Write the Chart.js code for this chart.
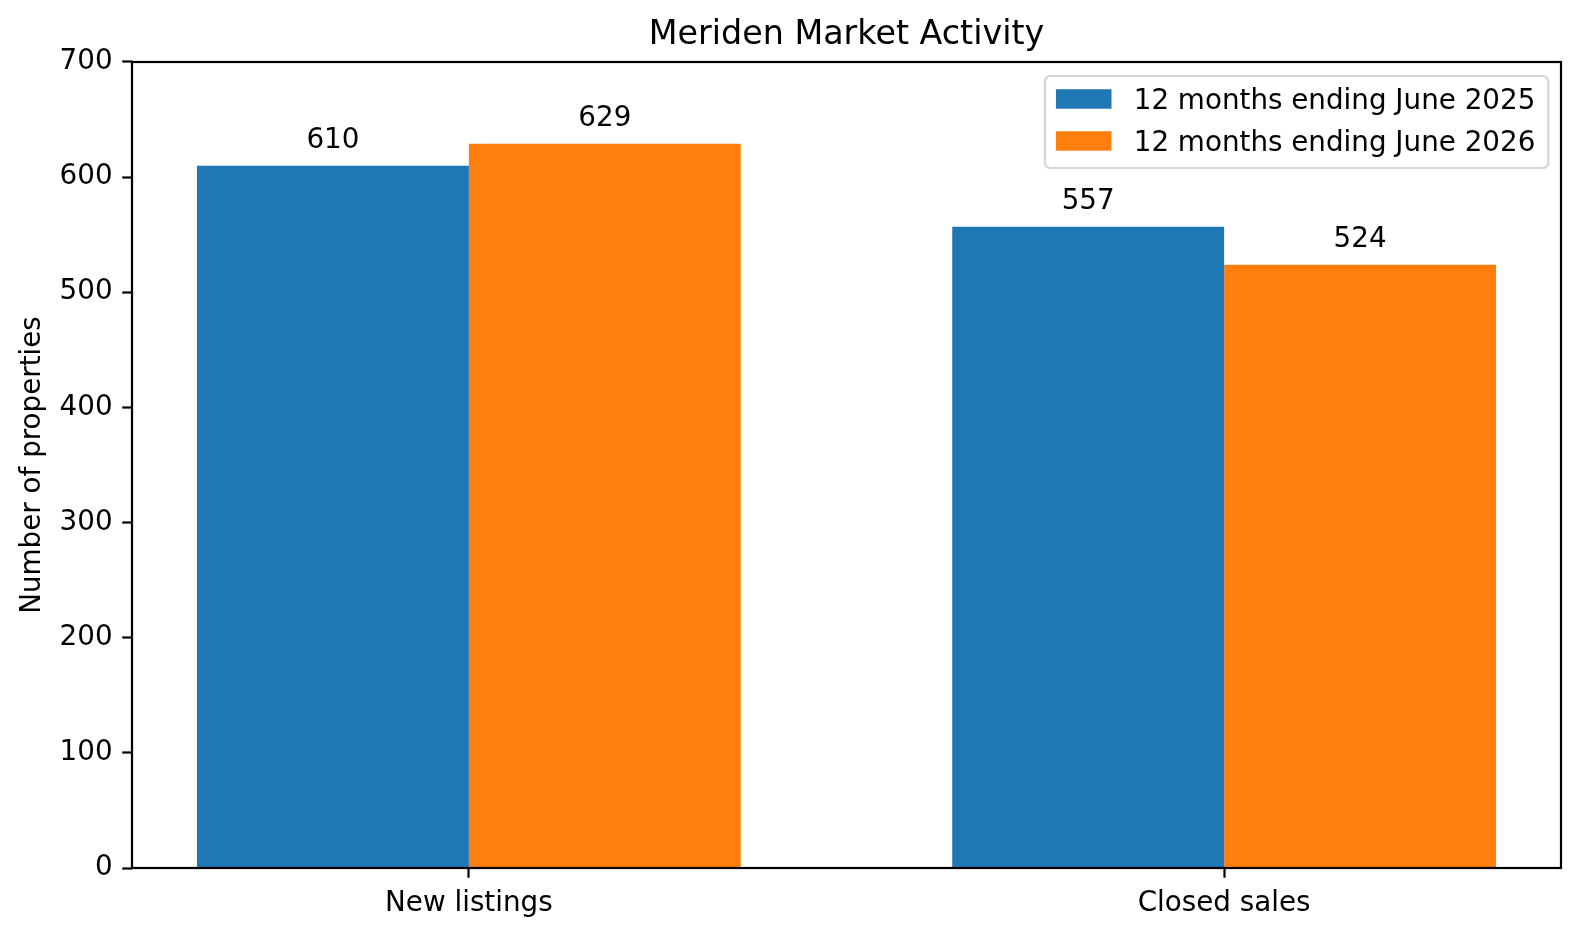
<!DOCTYPE html>
<html>
<head>
<meta charset="utf-8">
<title>Meriden Market Activity</title>
<script src="https://cdn.jsdelivr.net/npm/chart.js@4.4.1/dist/chart.umd.min.js"></script>
<style>
	html, body {
		margin: 0;
		padding: 0;
		background: #ffffff;
	}
	#chart {
		display: block;
	}
</style>
</head>
<body>
<canvas id="chart" width="1580" height="937"></canvas>
<script>
const categories = ["New listings", "Closed sales"];
const seriesLabels = ["12 months ending June 2025", "12 months ending June 2026"];
const values2025 = [610, 557];
const values2026 = [629, 524];
const seriesColors = ["#1f77b4", "#ff7f0e"];
const yTitle = "Number of properties";
const chartTitle = "Meriden Market Activity";

const fontFamily = "'DejaVu Sans', sans-serif";
const pt = 200 / 72;
const lineWidth = 0.8 * pt;

Chart.defaults.font.family = fontFamily;
Chart.defaults.color = "#000000";

const toPoints = values => values.map((v, i) => ({ x: i, y: v }));

// matplotlib style frame: all four spines on top of the bars
const framePlugin = {
	id: "frame",
	afterDatasetsDraw(chart) {
		const { ctx, chartArea } = chart;
		ctx.save();
		ctx.strokeStyle = "#000000";
		ctx.lineWidth = lineWidth;
		ctx.strokeRect(chartArea.left, chartArea.top,
			chartArea.right - chartArea.left, chartArea.bottom - chartArea.top);
		ctx.restore();
	}
};

// value labels above each bar
const barLabelPlugin = {
	id: "barLabels",
	afterDatasetsDraw(chart) {
		const ctx = chart.ctx;
		ctx.save();
		ctx.font = `${10 * pt}px ${fontFamily}`;
		ctx.fillStyle = "#000000";
		ctx.textAlign = "center";
		ctx.textBaseline = "alphabetic";
		chart.data.datasets.forEach((dataset, d) => {
			const meta = chart.getDatasetMeta(d);
			meta.data.forEach((bar, i) => {
				ctx.fillText(String(dataset.data[i].y), bar.x, bar.y - 17.7);
			});
		});
		ctx.restore();
	}
};

// boxed legend in the upper right corner of the axes
const boxLegendPlugin = {
	id: "boxLegend",
	afterDraw(chart) {
		const { ctx, chartArea } = chart;
		const fontSize = 10 * pt;
		ctx.save();
		ctx.font = `${fontSize}px ${fontFamily}`;
		const textWidth = Math.max(...chart.data.datasets.map(ds => ctx.measureText(ds.label).width));
		const handleWidth = 2 * fontSize;
		const handleHeight = 0.7 * fontSize;
		const rowStep = 42;
		const boxRight = chartArea.right - 12.7;
		const boxTop = chartArea.top + 14;
		const textX = boxRight - 13 - textWidth;
		const handleX = textX - 0.8 * fontSize - handleWidth;
		const boxLeft = handleX - 11;
		const boxBottom = boxTop + 92;
		const r = 5.5;
		ctx.beginPath();
		ctx.moveTo(boxLeft + r, boxTop);
		ctx.arcTo(boxRight, boxTop, boxRight, boxBottom, r);
		ctx.arcTo(boxRight, boxBottom, boxLeft, boxBottom, r);
		ctx.arcTo(boxLeft, boxBottom, boxLeft, boxTop, r);
		ctx.arcTo(boxLeft, boxTop, boxRight, boxTop, r);
		ctx.closePath();
		ctx.fillStyle = "rgba(255,255,255,0.8)";
		ctx.fill();
		ctx.strokeStyle = "rgba(204,204,204,0.8)";
		ctx.lineWidth = lineWidth;
		ctx.stroke();
		ctx.textAlign = "left";
		ctx.textBaseline = "alphabetic";
		chart.data.datasets.forEach((ds, i) => {
			const baseline = boxTop + 32.7 + i * rowStep;
			ctx.fillStyle = ds.backgroundColor;
			ctx.fillRect(handleX, baseline - handleHeight, handleWidth, handleHeight);
			ctx.fillStyle = "#000000";
			ctx.fillText(ds.label, textX, baseline);
		});
		ctx.restore();
	}
};

const config = {
	type: "bar",
	data: {
		datasets: [
			{
				label: seriesLabels[0],
				data: toPoints(values2025),
				backgroundColor: seriesColors[0],
				borderWidth: 0
			},
			{
				label: seriesLabels[1],
				data: toPoints(values2026),
				backgroundColor: seriesColors[1],
				borderWidth: 0
			}
		]
	},
	options: {
		responsive: false,
		animation: false,
		devicePixelRatio: 1,
		categoryPercentage: 0.72,
		barPercentage: 1.0,
		layout: {
			padding: { left: 0, top: 0, right: 19, bottom: 0 }
		},
		plugins: {
			legend: { display: false },
			tooltip: { enabled: false },
			title: {
				display: true,
				text: chartTitle,
				fullSize: false,
				color: "#000000",
				font: { size: 12 * pt, weight: "normal", family: fontFamily, lineHeight: 1.2 },
				padding: { top: 15, bottom: 7 }
			}
		},
		scales: {
			x: {
				type: "linear",
				min: -0.446,
				max: 1.446,
				offset: false,
				afterBuildTicks: scale => {
					scale.ticks = categories.map((c, i) => ({ value: i }));
				},
				afterFit: scale => {
					scale.height = 69;
				},
				ticks: {
					autoSkip: false,
					maxRotation: 0,
					padding: 3.5 * pt,
					color: "#000000",
					font: { size: 10 * pt, family: fontFamily },
					callback: value => categories[value]
				},
				grid: {
					offset: false,
					drawOnChartArea: false,
					drawTicks: true,
					tickLength: 3.5 * pt,
					tickWidth: lineWidth,
					tickColor: "#000000"
				},
				border: { display: false }
			},
			y: {
				min: 0,
				max: 700,
				afterFit: scale => {
					scale.width = 132;
				},
				ticks: {
					stepSize: 100,
					autoSkip: false,
					padding: 3.5 * pt,
					color: "#000000",
					font: { size: 10 * pt, family: fontFamily }
				},
				grid: {
					drawOnChartArea: false,
					drawTicks: true,
					tickLength: 3.5 * pt,
					tickWidth: lineWidth,
					tickColor: "#000000"
				},
				border: { display: false },
				title: {
					display: true,
					text: yTitle,
					color: "#000000",
					font: { size: 10 * pt, family: fontFamily, lineHeight: 1.2 },
					padding: { top: 16.5, bottom: 0 }
				}
			}
		}
	},
	plugins: [framePlugin, barLabelPlugin, boxLegendPlugin]
};

new Chart(document.getElementById("chart"), config);
</script>
</body>
</html>
